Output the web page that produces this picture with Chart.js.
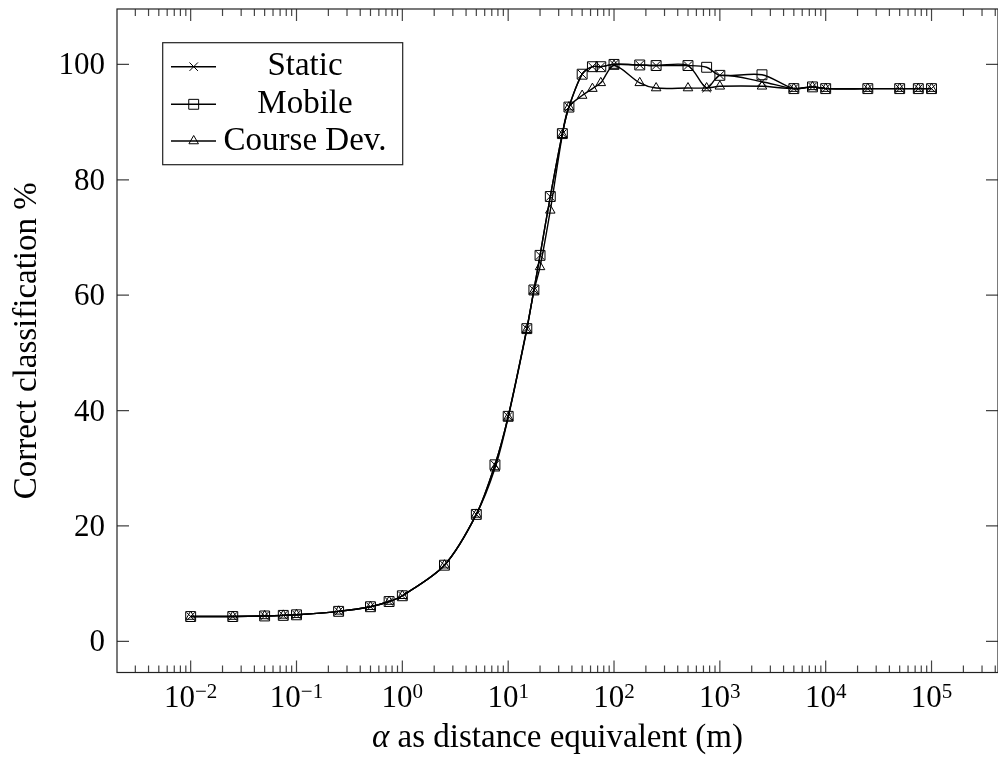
<!DOCTYPE html>
<html>
<head>
<meta charset="utf-8">
<title>Correct classification vs alpha</title>
<script src="https://cdn.jsdelivr.net/npm/chart.js@4.4.0/dist/chart.umd.min.js"></script>
<style>
  html, body { margin: 0; padding: 0; background: #fff; }
  canvas { display: block; }
</style>
</head>
<body>
<canvas id="plot" width="998" height="758"></canvas>
<script>
// alpha values (m) shared by all three runs
const alphas = [0.01, 0.025, 0.05, 0.075, 0.1, 0.25, 0.5, 0.75, 1, 2.5, 5, 7.5, 10, 15, 17.5, 20, 25, 32.5, 37.5, 50,
  62.5, 75, 100, 175, 250, 500, 750, 1000, 2500, 5000, 7500, 10000, 25000, 50000, 75000, 100000];

const staticPct = [4.3, 4.3, 4.4, 4.5, 4.6, 5.2, 6.0, 6.9, 7.9, 13.2, 22.0, 30.6, 39.0, 54.2, 60.9, 66.9, 77.1, 88.0, 92.6, 98.3,
  99.6, 99.6, 100.0, 99.9, 99.8, 99.8, 95.9, 98.1, 97.0, 95.8, 96.1, 95.8, 95.8, 95.8, 95.8, 95.8];

const mobilePct = [4.3, 4.3, 4.4, 4.5, 4.6, 5.2, 6.0, 6.9, 7.9, 13.2, 22.0, 30.6, 39.0, 54.2, 60.9, 66.9, 77.1, 88.0, 92.6, 98.3,
  99.6, 99.6, 100.0, 99.9, 99.8, 99.8, 99.5, 98.1, 98.2, 95.8, 96.1, 95.8, 95.8, 95.8, 95.8, 95.8];

const courseDevPct = [4.3, 4.3, 4.4, 4.5, 4.6, 5.2, 6.0, 6.9, 7.9, 13.2, 22.0, 30.0, 38.8, 54.0, 60.7, 64.9, 74.7, 87.8, 92.6, 94.6,
  95.8, 96.8, 99.8, 96.8, 95.9, 95.9, 95.9, 96.2, 96.2, 95.8, 96.1, 95.8, 95.8, 95.8, 95.8, 95.8];

const seriesNames = ['Static', 'Mobile', 'Course Dev.'];
const yTicks = [0, 20, 40, 60, 80, 100];
const xDecades = [-2, -1, 0, 1, 2, 3, 4, 5];

const SERIF = '"Liberation Serif", "DejaVu Serif", serif';

function pts(ys) { return alphas.map((a, i) => ({ x: a, y: ys[i] })); }

const marks = [
  { pointStyle: 'crossRot', radius: 6 },
  { pointStyle: 'rect', radius: 7 },
  { pointStyle: 'triangle', radius: 5.5 }
];

const datasets = [staticPct, mobilePct, courseDevPct].map((ys, i) => ({
  label: seriesNames[i],
  data: pts(ys),
  borderColor: '#000',
  borderWidth: 1.4,
  tension: 0.3,
  fill: false,
  pointStyle: marks[i].pointStyle,
  pointRadius: marks[i].radius,
  pointBorderWidth: 1,
  pointBorderColor: '#000',
  pointBackgroundColor: 'rgba(0,0,0,0)'
}));

// frame, inward ticks, tick labels, axis titles and legend in pgfplots style
const pgfFrame = {
  id: 'pgfFrame',
  afterDatasetsDraw(chart) {
    const { ctx, chartArea: a, scales: { x, y } } = chart;
    ctx.save();

    // ticks on all four sides, pointing inward
    ctx.strokeStyle = '#444';
    ctx.lineWidth = 1.2;
    ctx.beginPath();
    yTicks.forEach(v => {
      const py = y.getPixelForValue(v);
      ctx.moveTo(a.left, py); ctx.lineTo(a.left + 12, py);
      ctx.moveTo(a.right, py); ctx.lineTo(a.right - 12, py);
    });
    const lo = x.min, hi = x.max;
    for (let e = -3; e <= 5; e++) {
      for (let k = 1; k <= 9; k++) {
        const v = k * Math.pow(10, e);
        if (v < lo || v > hi) continue;
        const px = x.getPixelForValue(v);
        const len = k === 1 ? 12 : 7;
        ctx.moveTo(px, a.bottom); ctx.lineTo(px, a.bottom - len);
        ctx.moveTo(px, a.top); ctx.lineTo(px, a.top + len);
      }
    }
    ctx.stroke();

    // axis box
    ctx.strokeStyle = '#222';
    ctx.strokeRect(a.left, a.top, a.right - a.left, a.bottom - a.top);

    ctx.fillStyle = '#000';
    // y tick labels
    ctx.font = '31px ' + SERIF;
    ctx.textAlign = 'right';
    ctx.textBaseline = 'alphabetic';
    yTicks.forEach(v => {
      ctx.fillText(String(v), a.left - 12, y.getPixelForValue(v) + 10);
    });

    // x tick labels as 10 with a raised exponent
    ctx.textAlign = 'left';
    xDecades.forEach(e => {
      const px = x.getPixelForValue(Math.pow(10, e));
      const exp = e < 0 ? '\u2212' + Math.abs(e) : String(e);
      ctx.font = '31px ' + SERIF;
      const wBase = ctx.measureText('10').width;
      ctx.font = '21px ' + SERIF;
      const wExp = ctx.measureText(exp).width;
      const x0 = px - (wBase + wExp) / 2;
      ctx.font = '31px ' + SERIF;
      ctx.fillText('10', x0, 707);
      ctx.font = '21px ' + SERIF;
      ctx.fillText(exp, x0 + wBase, 698);
    });

    // x title: italic alpha followed by upright text
    const rest = ' as distance equivalent (m)';
    ctx.font = 'italic 33px ' + SERIF;
    const wA = ctx.measureText('\u03b1').width;
    ctx.font = '33px ' + SERIF;
    const wR = ctx.measureText(rest).width;
    const tx = (a.left + a.right) / 2 - (wA + wR) / 2;
    ctx.font = 'italic 33px ' + SERIF;
    ctx.fillText('\u03b1', tx, 747);
    ctx.font = '33px ' + SERIF;
    ctx.fillText(rest, tx + wA, 747);

    // y title
    ctx.save();
    ctx.translate(36, (a.top + a.bottom) / 2);
    ctx.rotate(-Math.PI / 2);
    ctx.textAlign = 'center';
    ctx.fillText('Correct classification %', 0, 0);
    ctx.restore();

    // legend
    const box = { left: 162.7, top: 42.7, w: 240, h: 122 };
    ctx.fillStyle = '#fff';
    ctx.fillRect(box.left, box.top, box.w, box.h);
    ctx.strokeStyle = '#222';
    ctx.lineWidth = 1.2;
    ctx.strokeRect(box.left, box.top, box.w, box.h);
    const rows = [66.7, 104.3, 141];
    chart.data.datasets.forEach((ds, i) => {
      const ry = rows[i];
      ctx.strokeStyle = '#000';
      ctx.lineWidth = 1.4;
      ctx.beginPath();
      ctx.moveTo(171, ry); ctx.lineTo(216, ry);
      ctx.stroke();
      ctx.lineWidth = 1;
      ctx.fillStyle = 'rgba(0,0,0,0)';
      Chart.helpers.drawPoint(ctx, {
        pointStyle: ds.pointStyle, rotation: 0, radius: ds.pointRadius, borderWidth: 1
      }, 193.7, ry);
      ctx.fillStyle = '#000';
      ctx.font = '33px ' + SERIF;
      ctx.textAlign = 'center';
      ctx.fillText(ds.label, 305, ry + 8.5);
    });

    ctx.restore();
  }
};

new Chart(document.getElementById('plot'), {
  type: 'line',
  data: { datasets },
  options: {
    responsive: false,
    animation: false,
    layout: { autoPadding: false, padding: { top: 9, right: 0, left: 0, bottom: 0 } },
    plugins: { legend: { display: false }, tooltip: { enabled: false } },
    scales: {
      x: {
        type: 'logarithmic',
        min: Math.pow(10, -2.696),
        max: Math.pow(10, 5.628),
        ticks: { display: false },
        grid: { display: false },
        border: { display: false },
        afterFit(s) { s.height = 85.5; }
      },
      y: {
        type: 'linear',
        min: -5.4,
        max: 109.6,
        ticks: { display: false },
        grid: { display: false },
        border: { display: false },
        afterFit(s) { s.width = 117; }
      }
    }
  },
  plugins: [pgfFrame]
});
</script>
</body>
</html>
